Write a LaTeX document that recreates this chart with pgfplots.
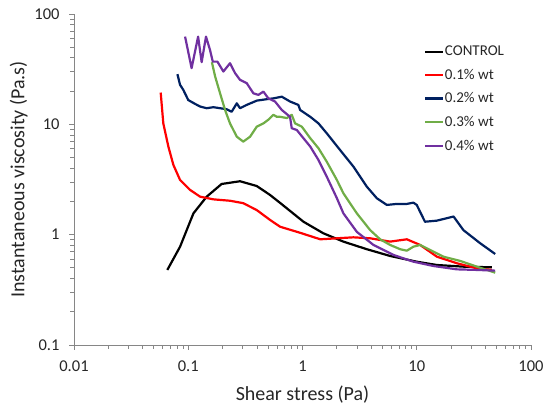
\documentclass[border=0pt]{standalone}
\usepackage{pgfplots}
\pgfplotsset{compat=1.18}
\usepackage{fontspec}
\setmainfont{Carlito}
\definecolor{cnavy}{HTML}{002060}
\definecolor{cgreen}{HTML}{70AD47}
\definecolor{cpurple}{HTML}{7030A0}
\definecolor{axgray}{HTML}{868686}
\begin{document}
\begin{tikzpicture}[x=1pt,y=1pt]
\begin{axis}[
  at={(0,0)}, anchor=south west,
  scale only axis, width=457pt, height=331pt,
  xmode=log, ymode=log,
  xmin=0.01, xmax=100, ymin=0.1, ymax=100,
  axis x line*=bottom, axis y line*=left,
  axis line style={axgray, line width=0.9pt},
  every tick/.style={axgray, line width=0.9pt},
  tick align=outside,
  major tick length=5pt, minor tick length=4pt,
  xtick={0.01,0.1,1,10,100}, xticklabels={0.01,0.1,1,10,100},
  ytick={0.1,1,10,100}, yticklabels={0.1,1,10,100},
  tick label style={font=\fontsize{16.5}{18}\selectfont, text=black!85},
  xticklabel style={yshift=-7pt},
  yticklabel style={xshift=-6pt},
  xlabel={Shear stress (Pa)},
  ylabel={Instantaneous viscosity (Pa.s)},
  label style={font=\fontsize{20}{23}\selectfont, text=black!85},
  xlabel style={yshift=-8pt},
  ylabel style={yshift=0pt},
  legend style={draw=none, fill=none, at={(0.766,0.905)}, anchor=north west,
    font=\fontsize{15}{17}\selectfont, row sep=10.8pt, inner sep=0pt,
    nodes={inner sep=0.5pt, text=black!85}},
  legend cell align=left,
  legend image code/.code={\draw[#1, line width=2.2pt] (0pt,0pt) -- (18pt,0pt);},
  every axis plot/.append style={line width=2.2pt, line join=round},
  clip=false,
]
\addplot[black] coordinates {
(0.0656,0.479) (0.0848,0.778) (0.111,1.56) (0.145,2.21) (0.196,2.88) (0.284,3.05)
(0.398,2.76) (0.520,2.29) (0.637,1.94) (1.02,1.31) (1.52,1.03) (2.28,0.865)
(3.66,0.738) (5.85,0.641) (10.0,0.569) (15.0,0.531) (25.6,0.513) (45.5,0.506)};
\addlegendentry{CONTROL}
\addplot[red] coordinates {
(0.0574,19.4) (0.0605,10.2) (0.0670,6.28) (0.0741,4.29) (0.0848,3.13) (0.104,2.54)
(0.127,2.21) (0.166,2.09) (0.232,2.03) (0.303,1.93) (0.398,1.67) (0.520,1.36)
(0.637,1.18) (0.953,1.04) (1.43,0.908) (2.00,0.927) (2.79,0.946) (3.91,0.927)
(5.85,0.865) (8.19,0.908) (10.7,0.807) (15.0,0.632) (22.4,0.551) (33.6,0.495) (45.5,0.479)};
\addlegendentry{0.1\% wt}
\addplot[cnavy] coordinates {
(0.0804,28.5) (0.0848,22.8) (0.0906,20.5) (0.100,16.6) (0.115,15.3) (0.127,14.5)
(0.145,14.0) (0.166,14.3) (0.190,14.0) (0.217,13.7) (0.240,13.0) (0.266,15.5)
(0.284,14.0) (0.325,15.0) (0.398,16.4) (0.486,16.9) (0.556,17.2) (0.659,17.8)
(0.778,16.1) (0.920,15.0) (0.953,13.5) (1.17,11.7) (1.38,10.2) (1.63,8.30)
(2.13,5.86) (2.79,4.14) (3.66,2.72) (4.47,2.14) (5.47,1.86) (6.70,1.90)
(8.19,1.90) (9.35,1.95) (10.0,1.86) (11.8,1.31) (15.0,1.34) (21.0,1.46)
(25.6,1.10) (35.9,0.836) (48.6,0.668)};
\addlegendentry{0.2\% wt}
\addplot[cgreen] coordinates {
(0.161,36.6) (0.172,27.1) (0.190,19.1) (0.210,13.5) (0.232,10.2) (0.266,7.73)
(0.303,6.97) (0.348,7.73) (0.398,9.53) (0.455,10.2) (0.502,11.0) (0.556,12.2)
(0.596,11.7) (0.637,11.7) (0.730,11.4) (0.805,12.2) (0.861,10.2) (0.986,9.53)
(1.17,7.48) (1.38,6.07) (1.63,4.59) (2.00,3.13) (2.28,2.37) (2.99,1.56)
(3.91,1.10) (4.78,0.908) (5.85,0.807) (7.16,0.738) (8.19,0.716) (9.35,0.778)
(10.7,0.807) (13.1,0.727) (17.1,0.632) (24.0,0.578) (33.6,0.513) (48.6,0.452)};
\addlegendentry{0.3\% wt}
\addplot[cpurple] coordinates {
(0.0938,62.4) (0.107,32.3) (0.122,62.4) (0.131,36.6) (0.143,62.4) (0.155,47.3)
(0.164,37.0) (0.180,37.0) (0.203,30.1) (0.232,35.8) (0.257,29.1) (0.284,25.3)
(0.325,23.6) (0.372,19.1) (0.411,18.5) (0.455,19.8) (0.502,17.2) (0.575,16.1)
(0.659,13.5) (0.778,11.7) (0.805,9.22) (0.891,8.89) (1.02,7.48) (1.17,6.28)
(1.38,4.75) (1.63,3.36) (2.00,2.14) (2.28,1.56) (2.99,1.06) (4.18,0.807)
(6.25,0.655) (9.35,0.569) (14.0,0.520) (22.4,0.485) (33.6,0.479) (48.6,0.472)};
\addlegendentry{0.4\% wt}
\end{axis}
\pgfresetboundingbox
\path (-74pt,-67pt) rectangle (476pt,345pt);
\end{tikzpicture}
\end{document}
